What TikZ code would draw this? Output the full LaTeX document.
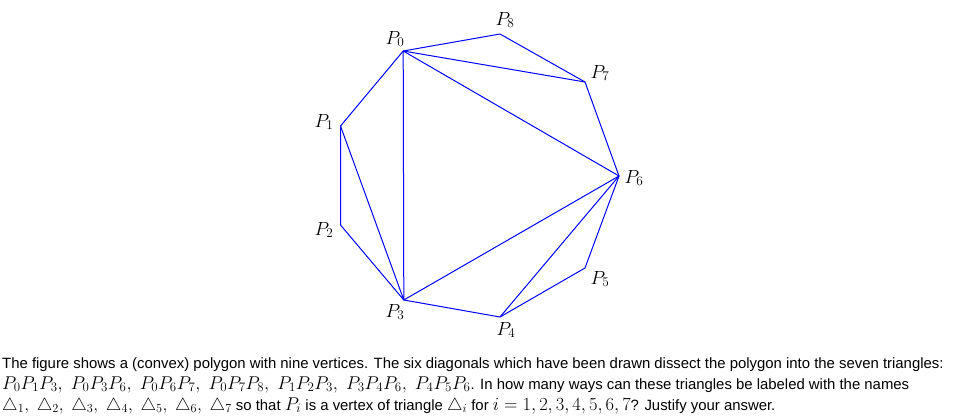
\RequirePackage{fix-cm}
\documentclass[tikz,border=0pt]{standalone}
\usepackage{amsmath}
\usepackage{fontspec}
\setmainfont{Liberation Sans}
\newcommand{\mth}[1]{{\fontsize{18.5}{20}\selectfont$#1$}}
\begin{document}
\begin{tikzpicture}[x=1pt,y=-1pt,
  edge/.style={draw=blue,line width=1pt,line join=round},
  vlabel/.style={font=\fontsize{19}{19}\selectfont},
  capline/.style={anchor=base west,inner sep=0pt,font=\fontsize{14.9}{20}\selectfont}]
\useasboundingbox (0,0) rectangle (958,415);
\coordinate (P0) at (403.2,51);
\coordinate (P1) at (340.5,126);
\coordinate (P2) at (340.5,225);
\coordinate (P3) at (403.8,300);
\coordinate (P4) at (500,317);
\coordinate (P5) at (585,268);
\coordinate (P6) at (619,176);
\coordinate (P7) at (585,82);
\coordinate (P8) at (500,34);
\draw[edge] (P0)--(P1)--(P2)--(P3)--(P4)--(P5)--(P6)--(P7)--(P8)--cycle;
\draw[edge] (P1)--(P3)--(P0)--(P6)--(P3);
\draw[edge] (P0)--(P7);
\draw[edge] (P4)--(P6);
\node[vlabel] (L0) at (395,39) {$P_0$};
\node[vlabel] (L8) at (505,20) {$P_8$};
\node[vlabel] (L7) at (600,73) {$P_7$};
\node[vlabel] (L6) at (634,178) {$P_6$};
\node[vlabel] (L5) at (600,279) {$P_5$};
\node[vlabel] (L4) at (506,330) {$P_4$};
\node[vlabel] (L3) at (395,312) {$P_3$};
\node[vlabel] (L2) at (324,230) {$P_2$};
\node[vlabel] (L1) at (324,122) {$P_1$};
\node[capline] (C1) at (2,368) {The figure shows a (convex) polygon with nine vertices. The six diagonals which have been drawn dissect the polygon into the seven triangles:};
\node[capline] (C2) at (2,389) {\mth{P_0P_1P_3,\ P_0P_3P_6,\ P_0P_6P_7,\ P_0P_7P_8,\ P_1P_2P_3,\ P_3P_4P_6,\ P_4P_5P_6}. In how many ways can these triangles be labeled with the names};
\node[capline] (C3) at (2,410) {{\fontsize{17.5}{20}\selectfont$\triangle_1,\ \triangle_2,\ \triangle_3,\ \triangle_4,\ \triangle_5,\ \triangle_6,\ \triangle_7$} so that \mth{P_i} is a vertex of triangle {\fontsize{17.5}{20}\selectfont$\triangle_i$} for \mth{i=1,2,3,4,5,6,7}? Justify your answer.};
\end{tikzpicture}
\end{document}
